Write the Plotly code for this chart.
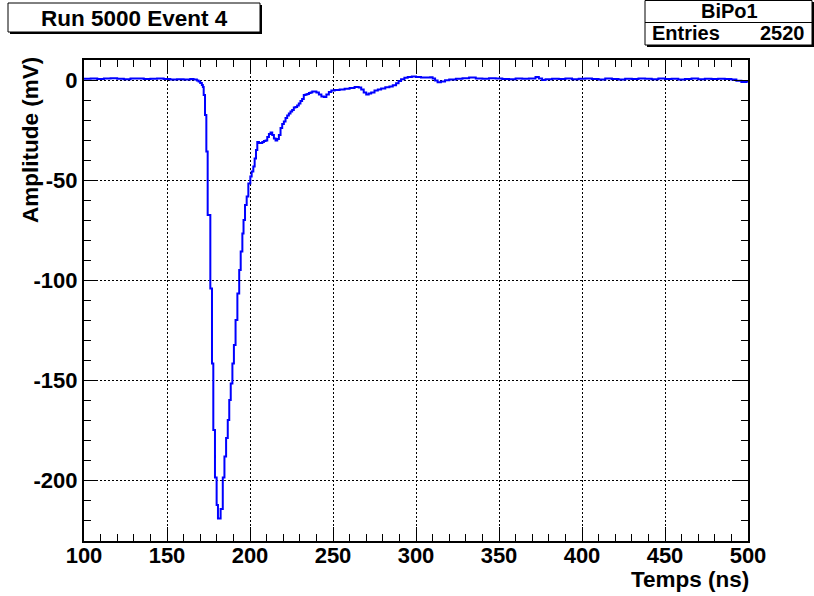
import plotly.graph_objects as go

# Waveform of run 5000, event 4 (BiPo1): step edges in ns and amplitude in mV
time_ns = [
    100, 104, 108, 112, 116, 120, 124, 128, 132, 136, 140, 144, 148, 152, 156, 160,
    164, 166, 168, 169, 170, 171, 171.6,
    172.1, 172.9, 173.7, 174.5, 176.1, 177.1, 177.9, 178.9, 179.9, 180.7, 182.3,
    183.6, 184.6, 185.6, 186.6, 187.5, 188.4, 189.4, 190.3, 191.3, 192.4, 193.5,
    194.4, 195.4, 196.1, 197.0, 198.0, 199.0, 200.2, 201.0, 202.0, 202.8, 203.6,
    204.4, 205.4, 206.4, 207.4, 208.4, 209.4, 210.4, 211.4, 212.4, 213.4, 214.4,
    215.4, 216.4, 217.4, 218.4, 219.4, 220.4, 221.4, 222.4, 223.4, 224.4, 225.4,
    226.4, 227.4, 228.4, 229.4, 230.4, 231.4, 232.4, 233.5, 234.5, 235.5, 236.5,
    237.5, 238.5, 240, 241.5, 243, 244.5, 246, 247.5, 249, 251, 254, 257, 260, 263,
    265.5, 267, 268.5, 270, 271.5, 273, 275, 277, 279, 281.5, 284, 286, 288, 289.5,
    291, 293, 295, 297.5, 300, 303, 306, 308.5, 310, 311.5, 313, 315, 317.5, 320,
    324, 328, 332, 336, 340, 344, 348, 352, 356, 360, 364, 368, 372, 374, 376, 378,
    382, 386, 390, 394, 398, 402, 406, 410, 414, 418, 422, 426, 430, 434, 438, 442,
    446, 450, 454, 458, 462, 466, 470, 474, 478, 482, 486, 490, 493, 496, 499, 500,
]
amplitude_mv = [
    0.6, 0.8, 0.5, 0.7, 0.9, 0.6, 0.4, 0.7, 0.8, 0.5, 0.6, 0.8, 0.5, 0.3, 0.4, 0.2,
    0.5, 0.3, -0.3, -0.8, -1.5, -2.5, -3.5,
    -7.5, -17.5, -35.8, -67.5, -104.2, -141.7, -175, -198.7, -212.5, -219.2, -214.5,
    -198.7, -188.3, -179, -170, -160, -151.7, -141.7, -132.5, -120, -106.7, -95,
    -85.8, -76.7, -70, -62.5, -58.3, -51.7, -48.3, -45.8, -43.3, -39.2, -35,
    -31, -31.5, -31.5, -31, -30.5, -30.3, -28.5, -27, -26.3, -27.5, -29.2,
    -30.3, -29.5, -27.5, -24, -22, -20.8, -19, -17.8, -16.7, -15.8, -15,
    -13.7, -13.5, -12.8, -11.7, -10.5, -9.5, -7.5, -7.2, -7, -6.5, -6.3,
    -5.8, -5.8, -6.3, -7.3, -8.3, -8.5, -7.2, -6, -5.3, -5, -4.8, -4.4, -4, -3.5,
    -3.8, -4.8, -6.3, -7.3, -6.8, -6.2, -5.3, -4.8, -4.2, -3.6, -3.2, -2.6, -1.6, -0.5,
    0.4, 1.1, 1.5, 1.7, 1.5, 1.2, 1.2, 1.4, 0.8, -0.2, -1.1, -0.7, -0.1, 0.3,
    0.6, 0.9, 1.2, 0.8, 0.6, 0.9, 0.7, 0.5, 0.4, 0.8, 0.6, 0.7, 1.5, 0.8, 0.0, 0.4,
    0.6, 0.5, 0.7, 0.4, 0.6, 0.8, 0.5, 0.3, 0.7, 0.5, 0.2, 0.6, 0.5, 0.8, 0.6, 0.4,
    0.7, 0.5, 0.6, 0.3, 0.5, 0.7, 0.4, 0.6, 0.5, 0.6, 0.5, 0.3, -0.4, -1.0, -0.8, -0.8,
]

x_ticks = [100, 150, 200, 250, 300, 350, 400, 450, 500]
y_ticks = [0, -50, -100, -150, -200]

title_text = "Run 5000 Event 4"
hist_name = "BiPo1"
entries = 2520
x_title = "Temps (ns)"
y_title = "Amplitude (mV)"

W, H = 814, 596
L, R, T, B = 84, 748, 60, 541   # frame in pixels


def fx(px):
    return (px - L) / (R - L)


def fy(py):
    return (B - py) / (B - T)


FONT = "Liberation Sans, Arial, Helvetica, sans-serif"
tick_font = dict(family=FONT, size=22, color="black", weight="bold")
title_font = dict(family=FONT, size=22.5, color="black", weight="bold")

fig = go.Figure()
fig.add_trace(go.Scatter(
    x=time_ns, y=amplitude_mv, mode="lines", line_shape="hv",
    line=dict(color="#0000ff", width=2), showlegend=False, hoverinfo="skip",
))

axis_common = dict(
    showline=True, linecolor="black", linewidth=2, mirror="ticks",
    ticks="inside", ticklen=14, tickwidth=1, tickcolor="black",
    showgrid=True, gridcolor="black", gridwidth=1, griddash="2px,2px",
    zeroline=False, tickfont=tick_font,
    minor=dict(ticks="inside", ticklen=7, tickwidth=1, tickcolor="black", showgrid=False),
)

fig.update_xaxes(range=[100, 500], tickvals=x_ticks, ticktext=[str(v) for v in x_ticks],
                 ticklabelstandoff=-6, **axis_common)
fig.update_xaxes(minor_dtick=10, minor_tick0=100)
fig.update_yaxes(range=[-230.5, 10], tickvals=y_ticks, ticktext=[str(v) for v in y_ticks],
                 **axis_common)
fig.update_yaxes(minor_dtick=10, minor_tick0=0)

shapes = []
annotations = []

# title box with shadow
shapes.append(dict(type="rect", xref="paper", yref="paper",
                   x0=fx(10), x1=fx(262), y0=fy(5), y1=fy(34),
                   fillcolor="black", line=dict(width=0), layer="above"))
shapes.append(dict(type="rect", xref="paper", yref="paper",
                   x0=fx(8), x1=fx(260), y0=fy(3), y1=fy(32),
                   fillcolor="white", line=dict(color="black", width=1), layer="above"))
annotations.append(dict(text=title_text, xref="paper", yref="paper",
                        x=fx(134), y=fy(18), xanchor="center", yanchor="middle",
                        showarrow=False, font=title_font))

# statistics box with shadow
shapes.append(dict(type="rect", xref="paper", yref="paper",
                   x0=fx(647), x1=fx(814), y0=fy(2), y1=fy(47),
                   fillcolor="black", line=dict(width=0), layer="above"))
shapes.append(dict(type="rect", xref="paper", yref="paper",
                   x0=fx(645), x1=fx(812), y0=fy(0.5), y1=fy(45),
                   fillcolor="white", line=dict(color="black", width=1), layer="above"))
shapes.append(dict(type="line", xref="paper", yref="paper",
                   x0=fx(645), x1=fx(812), y0=fy(22.5), y1=fy(22.5),
                   line=dict(color="black", width=1), layer="above"))
stat_font = dict(family=FONT, size=20, color="black", weight="bold")
annotations.append(dict(text=hist_name, xref="paper", yref="paper",
                        x=fx(729), y=fy(11), xanchor="center", yanchor="middle",
                        showarrow=False, font=stat_font))
annotations.append(dict(text="Entries", xref="paper", yref="paper",
                        x=fx(650), y=fy(33.5), xanchor="left", yanchor="middle",
                        showarrow=False, font=stat_font))
annotations.append(dict(text=str(entries), xref="paper", yref="paper",
                        x=fx(807), y=fy(33.5), xanchor="right", yanchor="middle",
                        showarrow=False, font=stat_font))

# axis titles, aligned to the end of each axis
annotations.append(dict(text=x_title, xref="paper", yref="paper",
                        x=fx(751), y=fy(579), xanchor="right", yanchor="middle",
                        showarrow=False, font=title_font))
annotations.append(dict(text=y_title, xref="paper", yref="paper",
                        x=fx(30), y=fy(55), xanchor="center", yanchor="top",
                        textangle=-90, showarrow=False, font=title_font))

fig.update_layout(
    width=W, height=H,
    margin=dict(l=L, r=W - R, t=T, b=H - B, autoexpand=False),
    paper_bgcolor="white", plot_bgcolor="white",
    shapes=shapes, annotations=annotations, showlegend=False,
)

fig.write_html("out.html")
